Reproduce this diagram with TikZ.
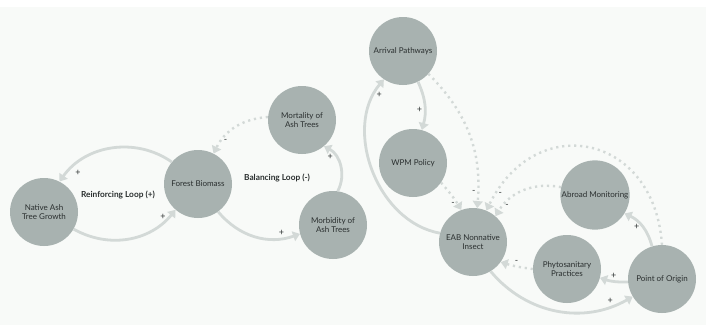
\documentclass[tikz,border=0pt]{standalone}
\usepackage{fontspec}
\setmainfont{Lato}
\usetikzlibrary{arrows.meta}
\definecolor{cldbg}{HTML}{F8FAF8}
\definecolor{cldnode}{HTML}{A8B2B0}
\definecolor{cldlink}{HTML}{D3D9D7}
\definecolor{cldtext}{HTML}{2A2F2F}
\begin{document}
\begin{tikzpicture}[x=1pt,y=1pt,>={Triangle[width=10pt,length=7pt]},
 var/.style={circle,fill=cldnode,minimum size=68pt,inner sep=1pt,align=center,text=cldtext,font=\fontsize{8}{9.5}\selectfont},
 pos link/.style={->,draw=cldlink,line width=2.8pt},
 neg link/.style={->,draw=cldlink,line width=2.4pt,dash pattern=on 2.2pt off 3.8pt},
 sgn/.style={text=cldtext,font=\fontsize{9}{9}\selectfont,inner sep=1.5pt},
 looplbl/.style={text=cldtext,font=\bfseries\fontsize{8.3}{10}\selectfont}]
\useasboundingbox (0,0) rectangle (706,-327);
\fill[white] (0,0) rectangle (706,-327);
\fill[cldbg] (0,-7) rectangle (706,-325);
% variables
\node[var](nat) at (44,-212){Native Ash\\Tree Growth};
\node[var](fb) at (198,-184){Forest Biomass};
\node[var](mort) at (302,-120){Mortality of\\Ash Trees};
\node[var](morb) at (333,-225){Morbidity of\\Ash Trees};
\node[var](arr) at (403,-51){Arrival Pathways};
\node[var](wpm) at (413,-163){WPM Policy};
\node[var](eab) at (473,-242){EAB Nonnative\\Insect};
\node[var](abr) at (595,-195){Abroad Monitoring};
\node[var](phy) at (567,-269){Phytosanitary\\Practices};
\node[var](poo) at (662,-279){Point of Origin};
\node[looplbl](rl) at (118,-195){Reinforcing Loop (+)};
\node[looplbl](bl) at (277,-178){Balancing Loop (-)};
% links
\draw[pos link](fb.140)to[bend right=45]node[sgn,pos=0.85,below right]{+}(nat.63);
\draw[pos link](nat.-30)to[bend right=40]node[sgn,pos=0.85,above]{+}(fb.229);
\draw[pos link](fb.-54)to[bend right=35]node[sgn,pos=0.8,above]{+}(morb.195);
\draw[pos link](morb.82)to[bend right=45]node[sgn,pos=0.7,left]{+}(mort.-50);
\draw[neg link](mort.175)to[bend right=30]node[sgn,pos=0.8,right]{-}(fb.63);
\draw[pos link](arr.-64)to[bend left=20]node[sgn,pos=0.6,left]{+}(wpm.75);
\draw[pos link](eab.165)to[bend left=60]node[sgn,pos=0.9,right]{+}(arr.236);
\draw[neg link](arr.-42)to[bend left=25]node[sgn,pos=0.9,left]{-}(eab.83);
\draw[neg link](wpm.-35)to[bend left=5]node[sgn,pos=0.8,left]{-}(eab.110);
\draw[neg link](abr.167)to[bend right=35]node[sgn,pos=0.85,right]{-}(eab.49);
\draw[neg link](poo.90)to[bend right=75,looseness=1.6]node[sgn,pos=0.94,right]{-}(eab.67);
\draw[neg link](phy.180)to[bend left=5]node[sgn,pos=0.5,above]{-}(eab.-36);
\draw[pos link](poo.185)to[bend left=10]node[sgn,pos=0.5,above]{+}(phy.-15);
\draw[pos link](poo.107)to[bend right=25]node[sgn,pos=0.5,left]{+}(abr.-32);
\draw[pos link](eab.-59)to[bend right=40]node[sgn,pos=0.85,above]{+}(poo.211);
\end{tikzpicture}
\end{document}
